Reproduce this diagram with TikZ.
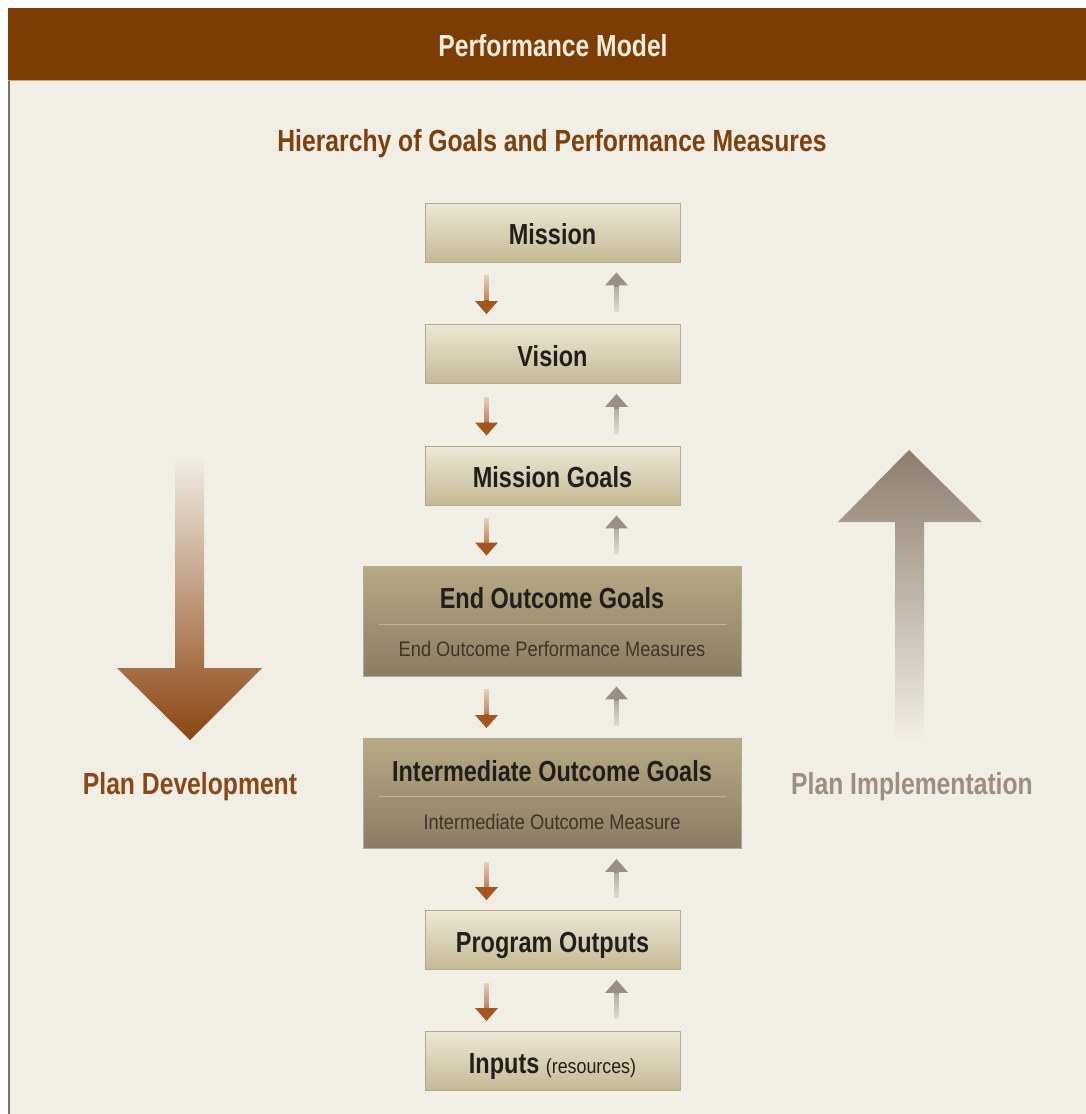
\documentclass[tikz,border=0pt]{standalone}
\usepackage{fontspec}
\setmainfont{Liberation Sans}
\newfontfamily\condB{Liberation Sans}[FakeStretch=0.81]
\newfontfamily\condR{Liberation Sans}[FakeStretch=0.87]
\usetikzlibrary{calc,fadings,arrows.meta}
\definecolor{bg}{HTML}{F1EEE6}
\definecolor{banner}{HTML}{7B3D03}
\definecolor{bannerline}{HTML}{D6A877}
\definecolor{edge}{HTML}{7B7169}
\definecolor{rust}{HTML}{7E400C}
\definecolor{plandev}{HTML}{8A4818}
\definecolor{planimp}{HTML}{9D8F80}
\definecolor{titletxt}{HTML}{F6ECDC}
\definecolor{boxtxt}{HTML}{221E1A}
\definecolor{subtxt}{HTML}{3E342A}
\definecolor{boxedge}{HTML}{B3AA92}
\definecolor{lbtop}{HTML}{ECE8D6}
\definecolor{lbbot}{HTML}{C4B994}
\definecolor{dbtop}{HTML}{B7AA84}
\definecolor{dbmid}{HTML}{A99B75}
\definecolor{dbbot}{HTML}{8A7B64}
\definecolor{divline}{HTML}{C2B592}
\definecolor{dnarr}{HTML}{A5561E}
\definecolor{uparr}{HTML}{9A8F86}
\definecolor{bigdnmid}{HTML}{C8976A}
\definecolor{bigdnbot}{HTML}{8B4513}
\definecolor{bigupTop}{HTML}{8C7E6F}
\definecolor{bigupmid}{HTML}{B0A393}
\tikzfading[name=fadetop, top color=transparent!85, bottom color=transparent!0]
\tikzfading[name=fadebot, top color=transparent!0, bottom color=transparent!85]
\newcommand\boxfont{\condB\bfseries\fontsize{29}{30}\selectfont}
\newcommand\headfont{\condB\bfseries\fontsize{30.5}{32}\selectfont}
\newcommand\subfont{\condR\mdseries\fontsize{21}{22}\selectfont}
\newcommand\resfont{\condR\mdseries\fontsize{20.5}{22}\selectfont}
\begin{document}
\begin{tikzpicture}[x=1pt,y=-1pt,
  smallbox/.style={draw=boxedge, line width=0.8pt, top color=lbtop, bottom color=lbbot,
    minimum width=255pt, minimum height=59pt, inner sep=0pt, text=boxtxt, font=\boxfont,
    text height=24pt, text depth=0pt},
  bigbox/.style={draw=boxedge, line width=0.8pt, top color=dbtop, middle color=dbmid, bottom color=dbbot,
    minimum width=378pt, minimum height=110pt, inner sep=0pt},
  bigtitle/.style={inner sep=0pt, text=boxtxt, font=\boxfont, text height=21pt, text depth=0pt},
  bigsub/.style={inner sep=0pt, text=subtxt, font=\subfont, text height=15pt, text depth=0pt},
  divider/.style={draw=divline, line width=0.8pt},
  dnshaft/.style={line width=4.5pt, draw=dnarr, path fading=fadetop, shorten >=11pt},
  dnhead/.style={line width=4.5pt, draw=dnarr, -{Triangle[width=22pt,length=13pt]}, shorten <=25pt},
  upshaft/.style={line width=4.5pt, draw=uparr, path fading=fadebot, shorten >=11pt},
  uphead/.style={line width=4.5pt, draw=uparr, -{Triangle[width=22pt,length=13pt]}, shorten <=25pt},
  heading/.style={inner sep=0pt, font=\headfont, text height=22pt, text depth=0pt}
]
\useasboundingbox (0,0) rectangle (1086,1114);
% background
\fill[white] (0,0) rectangle (1086,1114);
\fill[bg] (8,80) rectangle (1086,1114);
\fill[banner] (8,8) rectangle (1086,80);
\draw[bannerline, line width=1.2pt] (8,80.6) -- (1086,80.6);
\draw[edge, line width=1.5pt] (8.75,81) -- (8.75,1114);

% headings
\node[heading, text=titletxt] (title) at (553,45) {Performance Model};
\node[heading, text=rust] (subtitle) at (552,140) {Hierarchy of Goals and Performance Measures};

% big side arrows
\path[top color=bg, middle color=bigdnmid, bottom color=bigdnbot]
  (175,455) -- (204,455) -- (204,668) -- (262,668) -- (190,740) -- (117,668) -- (175,668) -- cycle;
\path[top color=bigupTop, middle color=bigupmid, bottom color=bg]
  (909,450) -- (982,522) -- (924,522) -- (924,742) -- (895,742) -- (895,522) -- (838,522) -- cycle;

\node[heading, text=plandev] (pdev) at (190,783) {Plan Development};
\node[heading, text=planimp] (pimp) at (912,783) {Plan Implementation};

% boxes
\node[smallbox] (mission) at (552.5,232.5) {Mission};
\node[smallbox] (vision) at (552.5,354) {Vision};
\node[smallbox] (mgoals) at (552.5,475.5) {Mission Goals};
\node[bigbox] (eog) at (552,621) {};
\node[bigtitle] (eogt) at ($(eog.north)+(0,32.5)$) {End Outcome Goals};
\draw[divider] ($(eog.north west)+(16,59)$) -- ($(eog.north east)+(-15,59)$);
\node[bigsub] (eogs) at ($(eog.north)+(0,83.5)$) {End Outcome Performance Measures};
\node[bigbox] (iog) at (552,793.5) {};
\node[bigtitle] (iogt) at ($(iog.north)+(0,32.5)$) {Intermediate Outcome Goals};
\draw[divider] ($(iog.north west)+(16,58.5)$) -- ($(iog.north east)+(-15,58.5)$);
\node[bigsub] (iogs) at ($(iog.north)+(0,83.5)$) {Intermediate Outcome Measure};
\node[smallbox] (outputs) at (552.5,940) {Program Outputs};
\node[smallbox] (inputs) at (552.5,1061) {Inputs {\resfont (resources)}};

% small arrows
\foreach \a/\b in {mission/vision, vision/mgoals, mgoals/eog, eog/iog, iog/outputs, outputs/inputs}{
  \draw[dnshaft] ([xshift=-66pt,yshift=-13pt]\a.south -| mission.south) -- ([xshift=-66pt,yshift=10pt]\b.north -| mission.north);
  \draw[dnhead] ([xshift=-66pt,yshift=-13pt]\a.south -| mission.south) -- ([xshift=-66pt,yshift=10pt]\b.north -| mission.north);
  \draw[upshaft] ([xshift=64pt,yshift=12pt]\b.north -| mission.north) -- ([xshift=64pt,yshift=-10pt]\a.south -| mission.south);
  \draw[uphead] ([xshift=64pt,yshift=12pt]\b.north -| mission.north) -- ([xshift=64pt,yshift=-10pt]\a.south -| mission.south);
}
\end{tikzpicture}
\end{document}
